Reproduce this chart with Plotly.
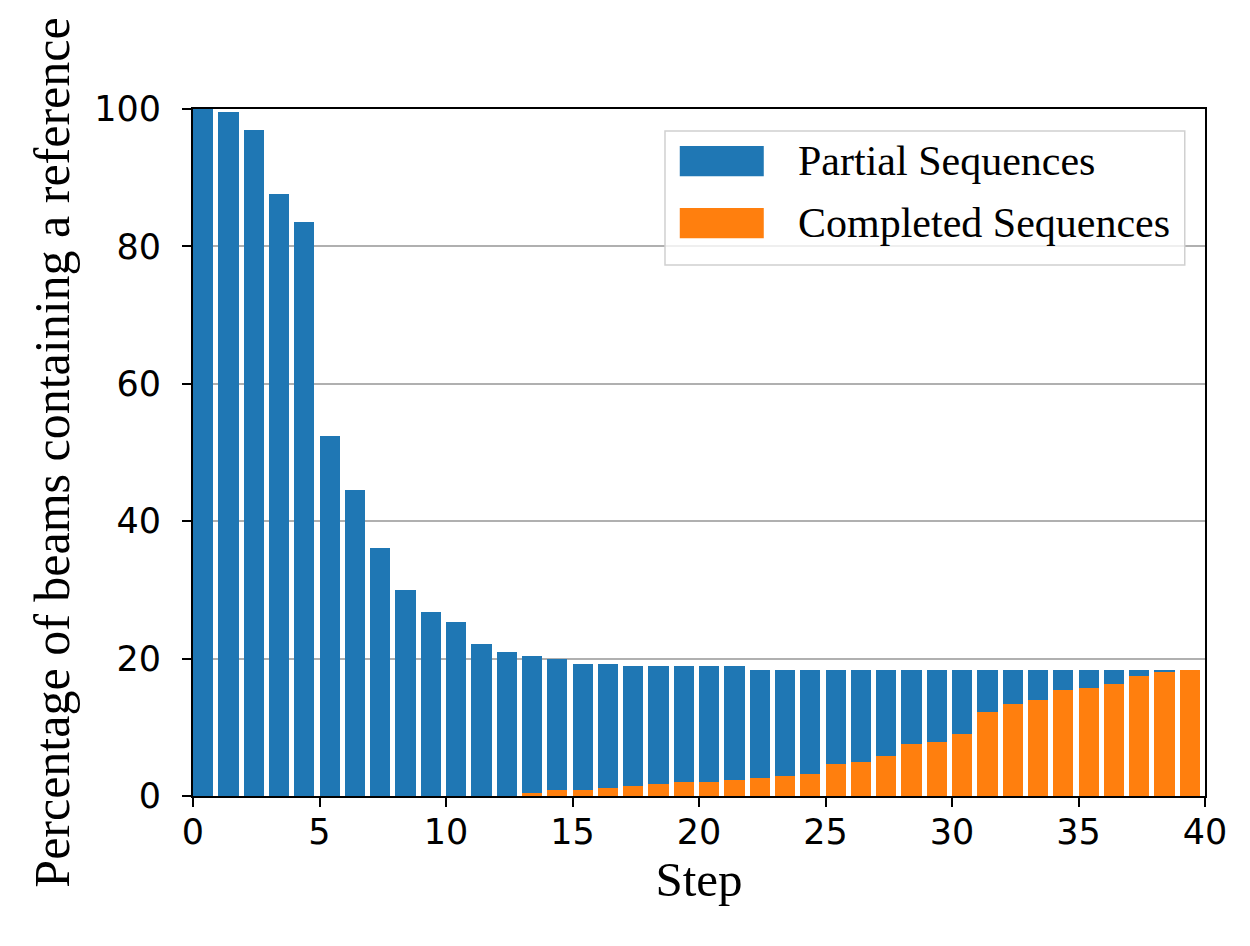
import plotly.graph_objects as go

# values
steps = list(range(40))
partial = [100, 99.5, 96.9, 87.6, 83.5, 52.4, 44.5, 36.1, 30.0, 26.8,
           25.4, 22.1, 21.0, 20.4, 19.9, 19.2, 19.2, 18.9, 18.9, 18.9,
           18.9, 18.9, 18.3, 18.3, 18.3, 18.3, 18.3, 18.3, 18.3, 18.3,
           18.3, 18.3, 18.3, 18.3, 18.3, 18.3, 18.3, 18.3, 18.3, 18.3]
completed = [0, 0, 0, 0, 0, 0, 0, 0, 0, 0,
             0, 0, 0, 0.5, 0.9, 0.9, 1.2, 1.5, 1.75, 2.0,
             2.0, 2.3, 2.6, 2.9, 3.2, 4.7, 4.9, 5.8, 7.6, 7.9,
             9.0, 12.2, 13.4, 14.0, 15.4, 15.7, 16.3, 17.5, 18.05, 18.3]
legend_names = ["Partial Sequences", "Completed Sequences"]

blue = "#1f77b4"
orange = "#ff7f0e"

fig = go.Figure()

# bars start at the step value (edge aligned), width 0.8
fig.add_trace(go.Bar(x=steps, y=partial, name=legend_names[0],
                     marker=dict(color=blue, line=dict(width=0)),
                     width=0.8, offset=0))
fig.add_trace(go.Bar(x=steps, y=completed, name=legend_names[1],
                     marker=dict(color=orange, line=dict(width=0)),
                     width=0.8, offset=0))

# hand-drawn legend so the swatches can match the big matplotlib ones
shapes = [
    dict(type="rect", xref="paper", yref="paper", x0=0.4664, x1=0.980,
         y0=0.773, y1=0.968, line=dict(color="#d0d0d0", width=1.5),
         fillcolor="rgba(255,255,255,0.8)", layer="above"),
    dict(type="rect", xref="paper", yref="paper", x0=0.481, x1=0.564,
         y0=0.902, y1=0.946, line=dict(width=0), fillcolor=blue),
    dict(type="rect", xref="paper", yref="paper", x0=0.481, x1=0.564,
         y0=0.812, y1=0.856, line=dict(width=0), fillcolor=orange),
]
annotations = [
    dict(xref="paper", yref="paper", x=0.596, y=0.924, text=legend_names[0],
         showarrow=False, xanchor="left", yanchor="middle",
         font=dict(family="Liberation Serif", size=42, color="black")),
    dict(xref="paper", yref="paper", x=0.596, y=0.834, text=legend_names[1],
         showarrow=False, xanchor="left", yanchor="middle",
         font=dict(family="Liberation Serif", size=42, color="black")),
]

axis_common = dict(
    showline=True, linecolor="black", linewidth=1.8, mirror=True,
    ticks="outside", ticklen=9, tickwidth=1.8, tickcolor="black",
    tickfont=dict(family="DejaVu Sans", size=35, color="black"),
    zeroline=False,
)

# page body adds 8px, so the figure is a bit smaller than the window
fig.update_layout(
    width=1242, height=938,
    margin=dict(l=185, r=45, t=101, b=150),
    paper_bgcolor="white", plot_bgcolor="white",
    barmode="overlay", bargap=0,
    showlegend=False,
    shapes=shapes, annotations=annotations,
    xaxis=dict(range=[0, 40], tickvals=[0, 5, 10, 15, 20, 25, 30, 35, 40],
               showgrid=False, ticklabelstandoff=-5,
               title=dict(text="Step", standoff=10,
                          font=dict(family="Liberation Serif", size=49, color="black")),
               **axis_common),
    yaxis=dict(range=[0, 100], tickvals=[0, 20, 40, 60, 80, 100],
               showgrid=True, gridcolor="#b0b0b0", gridwidth=1.5,
               ticklabelstandoff=14,
               title=dict(text="Percentage of beams containing a reference", standoff=9,
                          font=dict(family="Liberation Serif", size=50, color="black")),
               **axis_common),
)

fig.write_html("out.html")
